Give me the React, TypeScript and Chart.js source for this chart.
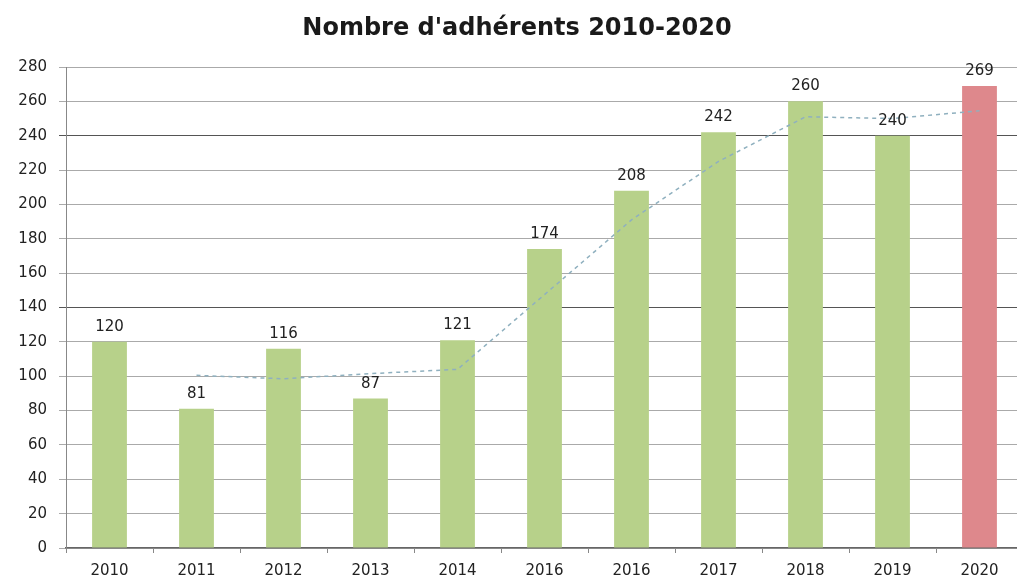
import React, { useEffect, useRef } from "react";
import { Chart, registerables } from "chart.js";

Chart.register(...registerables);

const categories = ["2010", "2011", "2012", "2013", "2014", "2016", "2016", "2017", "2018", "2019", "2020"];
const members = [120, 81, 116, 87, 121, 174, 208, 242, 260, 240, 269];
const trend = [null, 100.5, 98.5, 101.5, 104, 147.5, 191, 225, 251, 250, 254.5];
const yTicks = [0, 20, 40, 60, 80, 100, 120, 140, 160, 180, 200, 220, 240, 260, 280];
const TITLE = "Nombre d'adhérents 2010-2020";

const GREEN = "rgb(183,209,138)";
const RED = "rgb(222,136,140)";
const FONT = "'DejaVu Sans', sans-serif";

const valueLabels = {
  id: "valueLabels",
  afterDatasetsDraw(chart: any) {
    const ctx = chart.ctx;
    const meta = chart.getDatasetMeta(1);
    ctx.save();
    ctx.font = `15px ${FONT}`;
    ctx.fillStyle = "#222";
    ctx.textAlign = "center";
    ctx.textBaseline = "alphabetic";
    meta.data.forEach((bar: any, i: number) => {
      ctx.fillText(String(members[i]), bar.x, bar.y - 11);
    });
    ctx.restore();
  },
  afterDraw(chart: any) {
    const ctx = chart.ctx;
    ctx.save();
    ctx.font = `bold 24px ${FONT}`;
    ctx.fillStyle = "#1a1a1a";
    ctx.textAlign = "center";
    ctx.textBaseline = "middle";
    ctx.fillText(TITLE, 517, 29);
    ctx.restore();
  },
};

export default function App() {
  const ref = useRef<HTMLCanvasElement>(null);
  useEffect(() => {
    if (!ref.current) return;
    const chart = new Chart(ref.current, {
      type: "bar",
      data: {
        labels: categories,
        datasets: [
          {
            type: "line",
            data: trend as any,
            borderColor: "#8fb0bf",
            borderWidth: 1.5,
            borderDash: [4, 4],
            pointRadius: 0,
            fill: false,
            tension: 0,
            order: 0,
          } as any,
          {
            type: "bar",
            data: members,
            backgroundColor: members.map((_, i) => (i === members.length - 1 ? RED : GREEN)),
            borderWidth: 0,
            barPercentage: 0.4,
            categoryPercentage: 1,
            order: 1,
          },
        ],
      },
      options: {
        responsive: false,
        animation: false,
        layout: { padding: { left: 0, right: 0, top: 67, bottom: 0 } },
        plugins: {
          legend: { display: false },
          tooltip: { enabled: false },
          title: { display: false },
        },
        scales: {
          x: {
            grid: {
              offset: true,
              drawOnChartArea: false,
              drawTicks: true,
              tickLength: 5,
              color: "#888",
            },
            border: { display: true, color: "#666", width: 1.5 },
            ticks: {
              color: "#222",
              font: { family: FONT, size: 15 },
              padding: 9,
              maxRotation: 0,
              autoSkip: false,
            },
            afterFit: (s: any) => {
              s.height = 35;
            },
          },
          y: {
            min: 0,
            max: 280,
            afterBuildTicks: (s: any) => {
              s.ticks = yTicks.map((v) => ({ value: v }));
            },
            grid: {
              drawTicks: true,
              tickLength: 7,
              color: (c: any) => (c.tick && (c.tick.value === 140 || c.tick.value === 240) ? "#555" : "#aaa"),
              lineWidth: 1,
            },
            border: { display: true, color: "#888" },
            ticks: {
              color: "#222",
              font: { family: FONT, size: 15 },
              padding: 12,
            },
            afterFit: (s: any) => {
              s.width = 66;
            },
          },
        },
      },
      plugins: [valueLabels],
    });
    return () => chart.destroy();
  }, []);
  return (
    <div style={{ position: "absolute", left: 0, top: 0, width: 1017, height: 583, overflow: "hidden", background: "#fff" }}>
      <canvas ref={ref} width={1023} height={583} style={{ display: "block" }} />
    </div>
  );
}
